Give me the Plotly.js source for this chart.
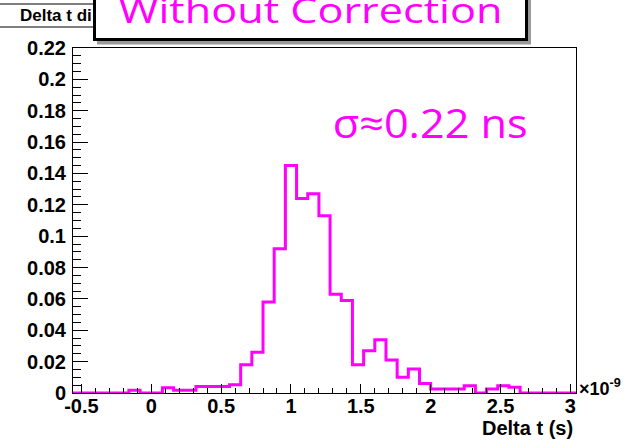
<!DOCTYPE html>
<html><head><meta charset="utf-8">
<script src="https://cdn.plot.ly/plotly-3.0.1.min.js"></script>
<style>
html,body{margin:0;padding:0;background:#fff}
#chart{width:625px;height:440px}
g.annotation[data-index="1"] text.annotation-text{transform:scaleX(1.27);transform-box:fill-box;transform-origin:50% 50%}
g.annotation[data-index="2"] text.annotation-text{transform:scaleX(1.08);transform-box:fill-box;transform-origin:50% 50%}
</style>
</head><body><div id="chart"></div>
<script>
// Histogram bin edges (units of 1e-9 s) and normalised contents
const binEdges = [-0.56,-0.48,-0.40,-0.32,-0.24,-0.16,-0.08,0.00,0.08,0.16,0.24,0.32,0.40,0.48,0.56,0.64,0.72,0.80,0.88,0.96,1.04,1.12,1.20,1.28,1.36,1.44,1.52,1.60,1.68,1.76,1.84,1.92,2.00,2.08,2.16,2.24,2.32,2.40,2.48,2.56,2.64,2.72,2.80,2.88,2.96,3.04];
const binValues = [0,0,0,0,0,0.0017,0,0,0.0033,0.0017,0.0017,0.0042,0.0042,0.0042,0.0053,
  0.018,0.026,0.058,0.092,0.145,0.124,0.127,0.113,0.063,0.059,0.018,0.027,0.034,0.021,0.010,
  0.0153,0.006,0.0026,0.0026,0.0026,0.0047,0,0.0026,0.0047,0.0036,0,0,0,0,0];
const xTickVals = [-0.5,0,0.5,1,1.5,2,2.5,3];
const xTickText = ["-0.5","0","0.5","1","1.5","2","2.5","3"];
const yTickVals = [0,0.02,0.04,0.06,0.08,0.1,0.12,0.14,0.16,0.18,0.2,0.22];
const yTickText = ["0","0.02","0.04","0.06","0.08","0.1","0.12","0.14","0.16","0.18","0.2","0.22"];
const histTitle = "Delta t di";
const overlayText = "Without Correction";
const sigmaText = "σ≈0.22 ns";
const xTitle = "Delta t (s)";
const xExponent = "×10<sup>-9</sup>";

const W = 625, H = 440;
const M = {l: 73, r: 49, t: 48, b: 47};
const px = x => (x - M.l) / (W - M.l - M.r);
const py = y => (H - M.b - y) / (H - M.t - M.b);

const magenta = '#ff00ff';
const tickFont = {family: 'Liberation Sans, Arial, sans-serif', size: 20, color: '#000', weight: 'bold'};

const trace = {
  type: 'scatter', mode: 'lines',
  x: binEdges,
  y: binValues.concat([binValues[binValues.length - 1]]),
  line: {shape: 'hv', color: magenta, width: 3},
  hoverinfo: 'skip'
};

const layout = {
  width: W, height: H,
  margin: M,
  paper_bgcolor: '#fff', plot_bgcolor: '#fff',
  showlegend: false,
  xaxis: {
    range: [binEdges[0], binEdges[binEdges.length - 1]],
    tickmode: 'array', tickvals: xTickVals, ticktext: xTickText,
    ticks: 'inside', ticklen: 9, tickwidth: 1, tickcolor: '#000',
    minor: {tickmode: 'linear', tick0: 0, dtick: 0.1, ticks: 'inside', ticklen: 5, tickcolor: '#000'},
    showgrid: false, zeroline: false,
    showline: true, linecolor: '#000', linewidth: 1, mirror: true,
    tickfont: tickFont, ticklabelstandoff: -5
  },
  yaxis: {
    range: [0, 0.22],
    tickmode: 'array', tickvals: yTickVals, ticktext: yTickText,
    ticks: 'inside', ticklen: 15, tickwidth: 1, tickcolor: '#000',
    minor: {tickmode: 'linear', tick0: 0, dtick: 0.005, ticks: 'inside', ticklen: 8, tickcolor: '#000'},
    showgrid: false, zeroline: false,
    showline: true, linecolor: '#000', linewidth: 1, mirror: true,
    tickfont: tickFont, ticklabelstandoff: 2
  },
  shapes: [
    // histogram title box
    {type: 'rect', xref: 'paper', yref: 'paper', x0: px(-5), x1: px(200), y0: py(27), y1: py(4),
     line: {color: '#000', width: 1}, fillcolor: '#fff', layer: 'above'},
    // shadow of overlay box
    {type: 'rect', xref: 'paper', yref: 'paper', x0: px(97), x1: px(531), y0: py(44.5), y1: py(-20),
     line: {width: 0}, fillcolor: '#9a9a9a', layer: 'above'}
  ],
  annotations: [
    {xref: 'paper', yref: 'paper', x: px(18), y: py(16), xanchor: 'left', yanchor: 'middle',
     text: histTitle, showarrow: false,
     font: {family: 'Liberation Sans, Arial, sans-serif', size: 17, color: '#000', weight: 'bold'}},
    {xref: 'paper', yref: 'paper', x: px(310.5), y: py(41), xanchor: 'center', yanchor: 'bottom',
     text: overlayText, showarrow: false, width: 429, height: 56,
     bgcolor: '#fff', bordercolor: '#000', borderwidth: 3, borderpad: 0,
     font: {family: 'Open Sans, sans-serif', size: 34, color: magenta}},
    {xref: 'paper', yref: 'paper', x: px(430), y: py(122), xanchor: 'center', yanchor: 'middle',
     text: sigmaText, showarrow: false,
     font: {family: 'Open Sans, sans-serif', size: 40, color: magenta}},
    {xref: 'paper', yref: 'paper', x: px(575), y: py(428), xanchor: 'right', yanchor: 'middle',
     text: xTitle, showarrow: false,
     font: {family: 'Liberation Sans, Arial, sans-serif', size: 20, color: '#000', weight: 'bold'}},
    {xref: 'paper', yref: 'paper', x: px(577), y: py(387), xanchor: 'left', yanchor: 'middle',
     text: xExponent, showarrow: false,
     font: {family: 'Liberation Sans, Arial, sans-serif', size: 18, color: '#000', weight: 'bold'}}
  ]
};

Plotly.newPlot('chart', [trace], layout, {staticPlot: true, displayModeBar: false});
</script>
</body></html>
